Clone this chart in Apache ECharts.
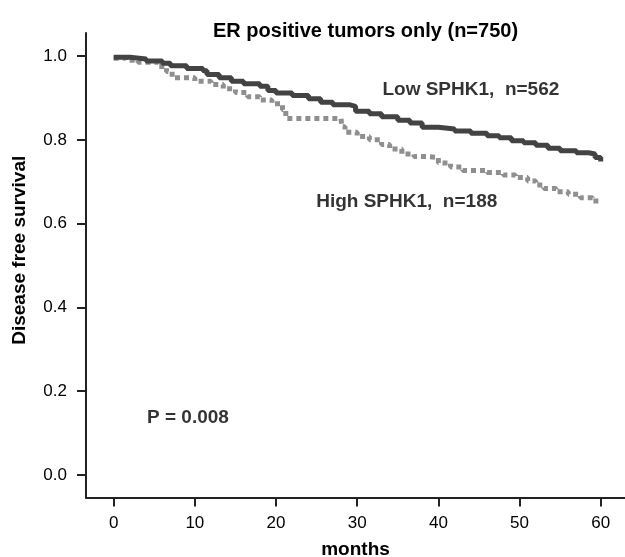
<!DOCTYPE html>
<html>
<head>
<meta charset="utf-8">
<script src="https://cdn.jsdelivr.net/npm/echarts@6/dist/echarts.min.js"></script>
<style>
  html, body { margin: 0; padding: 0; background: #fff; }
  #chart { width: 625px; height: 557px; }
</style>
</head>
<body>
<div id="chart"></div>
<script>
// Kaplan-Meier curves: [months, survival]
var lowSphk1 = [
    [0, 0.997], [2, 0.993], [4, 0.988], [6, 0.983], [7, 0.977], [9, 0.970],
    [11, 0.965], [11.5, 0.956], [13, 0.948], [14.5, 0.940], [16, 0.934],
    [18, 0.928], [19, 0.918], [20, 0.912], [22, 0.906], [24, 0.898],
    [25.5, 0.890], [27, 0.884], [29, 0.880], [29.8, 0.868], [31.5, 0.862],
    [33, 0.855], [35, 0.847], [36.5, 0.840], [38, 0.830], [40, 0.826],
    [42, 0.821], [44, 0.816], [46, 0.810], [47.5, 0.805], [49, 0.798],
    [50.5, 0.793], [52, 0.787], [53.5, 0.780], [55, 0.774], [57, 0.769],
    [58.5, 0.766], [59.3, 0.758], [60, 0.748]
];
var highSphk1 = [
    [0, 0.995], [1.5, 0.990], [3, 0.985], [5.5, 0.975], [6.5, 0.963],
    [7.2, 0.948], [10, 0.940], [12, 0.932], [13.5, 0.922], [15, 0.913],
    [16.5, 0.903], [18, 0.895], [19.5, 0.886], [20.8, 0.872], [21.2, 0.851],
    [28.0, 0.848], [28.1, 0.831], [28.5, 0.818], [30, 0.808], [31.5, 0.800],
    [33, 0.789], [34, 0.778], [35.5, 0.766], [37, 0.760], [38.5, 0.758],
    [40, 0.745], [41.5, 0.735], [43, 0.727], [46, 0.722], [48, 0.716],
    [49.5, 0.710], [51, 0.702], [52, 0.692], [53, 0.684], [54.5, 0.676],
    [56, 0.670], [57.5, 0.662], [59, 0.654], [60, 0.650]
];
var xTickValues = [0, 10, 20, 30, 40, 50, 60];
var yTickValues = [0, 0.2, 0.4, 0.6, 0.8, 1.0];
// axis extent, a bit wider than the ticks (R style)
var xRange = [-3.41, 62.99];
var yRange = [-0.0537, 1.055];
// text annotations: [months, survival, text]
var notes = [
    [44.0, 0.919, 'Low SPHK1,  n=562'],
    [36.1, 0.652, 'High SPHK1,  n=188'],
    [9.15, 0.136, 'P = 0.008']
];

var font = 'Liberation Sans, Arial, Helvetica, sans-serif';
var chart = echarts.init(document.getElementById('chart'));

var option = {
    animation: false,
    backgroundColor: '#fff',
    title: {
        text: 'ER positive tumors only (n=750)',
        left: 208,
        top: 16,
        textStyle: { fontFamily: font, fontSize: 20, fontWeight: 'bold', color: '#000' }
    },
    grid: {
        left: 86, right: 0, top: 33, bottom: 59.5,
        outerBoundsMode: 'none',
        containLabel: false
    },
    xAxis: {
        type: 'value',
        min: xRange[0], max: xRange[1],
        axisLine: { show: true, onZero: false, lineStyle: { color: '#222', width: 2 } },
        axisTick: { show: true, length: 9, customValues: xTickValues, lineStyle: { color: '#222', width: 2 } },
        axisLabel: { margin: 17, customValues: xTickValues, fontFamily: font, fontSize: 17, color: '#000' },
        splitLine: { show: false },
        name: 'months',
        nameLocation: 'middle',
        nameGap: 43,
        nameTextStyle: { fontFamily: font, fontSize: 19, fontWeight: 'bold', color: '#000' }
    },
    yAxis: {
        type: 'value',
        min: yRange[0], max: yRange[1],
        axisLine: { show: true, onZero: false, lineStyle: { color: '#222', width: 2 } },
        axisTick: { show: true, length: 9, customValues: yTickValues, lineStyle: { color: '#222', width: 2 } },
        axisLabel: {
            margin: 19, customValues: yTickValues, fontFamily: font, fontSize: 17, color: '#000',
            formatter: function (v) { return v.toFixed(1); }
        },
        splitLine: { show: false },
        name: 'Disease free survival',
        nameLocation: 'middle',
        nameGap: 57,
        nameTextStyle: {
            fontFamily: font, fontSize: 19, fontWeight: 'bold', color: '#000',
            padding: [0, 0, 0, 30]
        }
    },
    series: [
        {
            name: 'High SPHK1',
            type: 'line',
            step: 'end',
            showSymbol: false,
            data: highSphk1,
            lineStyle: { color: '#8f8f8f', width: 5, type: [5, 4], cap: 'butt' },
            z: 2
        },
        {
            name: 'Low SPHK1',
            type: 'line',
            step: 'end',
            showSymbol: false,
            data: lowSphk1,
            lineStyle: { color: '#434343', width: 5 },
            z: 3
        },
        {
            name: 'notes',
            type: 'scatter',
            symbolSize: 0,
            silent: true,
            data: notes.map(function (n) { return { value: [n[0], n[1]], name: n[2] }; }),
            label: {
                show: true,
                position: 'inside',
                formatter: '{b}',
                fontFamily: font, fontSize: 19, fontWeight: 'bold', color: '#000'
            }
        }
    ]
};
chart.setOption(option);
</script>
</body>
</html>
